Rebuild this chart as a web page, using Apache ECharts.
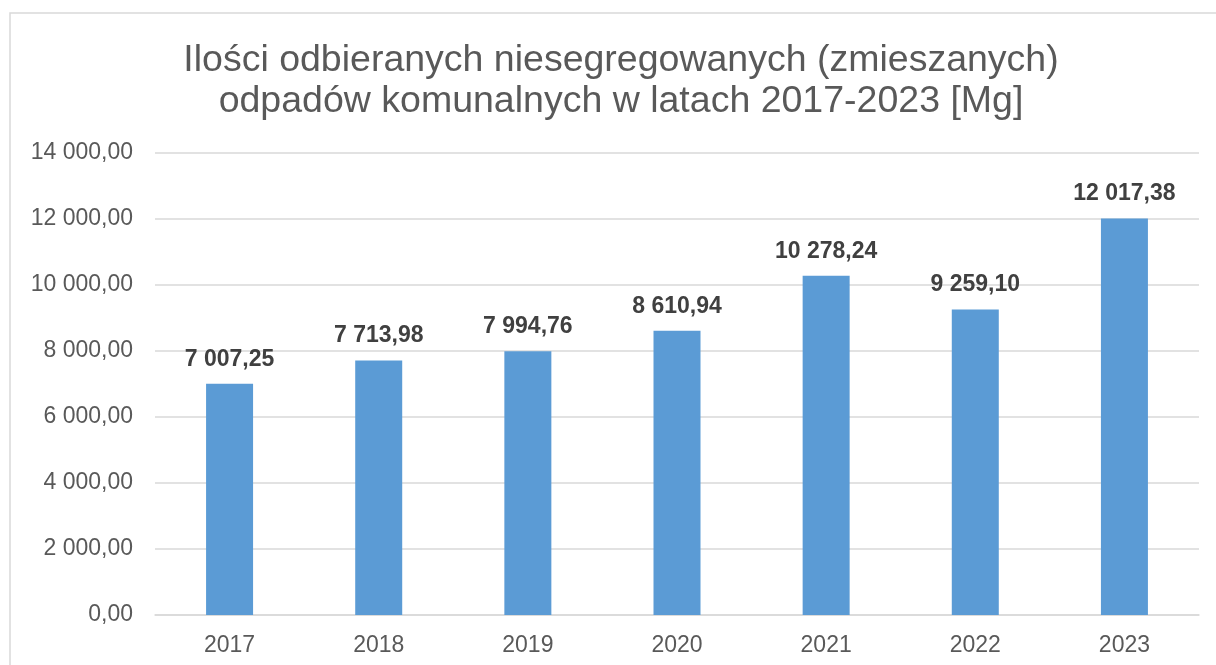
<!DOCTYPE html>
<html>
<head>
<meta charset="utf-8">
<script src="https://cdn.jsdelivr.net/npm/echarts@6/dist/echarts.min.js"></script>
<style>
  html, body { margin: 0; padding: 0; background: #fff; }
  #chart { width: 1216px; height: 665px; }
</style>
</head>
<body>
<div id="chart"></div>
<script>
const years = ['2017', '2018', '2019', '2020', '2021', '2022', '2023'];
const amounts = [7007.25, 7713.98, 7994.76, 8610.94, 10278.24, 9259.10, 12017.38];
const titleText = 'Ilości odbieranych niesegregowanych (zmieszanych)\nodpadów komunalnych w latach 2017-2023 [Mg]';

// 12017.38 -> "12 017,38"
function plNum(v) {
  const parts = v.toFixed(2).split('.');
  return parts[0].replace(/\B(?=(\d{3})+(?!\d))/g, ' ') + ',' + parts[1];
}

const chart = echarts.init(document.getElementById('chart'));

chart.setOption({
  animation: false,
  textStyle: { fontFamily: 'Liberation Sans, Arial, sans-serif' },
  graphic: [{
    type: 'rect',
    shape: { x: 10, y: 13, width: 1250, height: 700 },
    style: { fill: 'none', stroke: '#d9d9d9', lineWidth: 1.5 },
    silent: true
  }],
  title: {
    text: titleText,
    left: 616,
    textAlign: 'center',
    top: 35,
    textStyle: {
      fontSize: 37.5,
      fontWeight: 'normal',
      color: '#595959',
      lineHeight: 41
    }
  },
  grid: { left: 155, right: 17, top: 153, bottom: 50, containLabel: false },
  xAxis: {
    type: 'category',
    data: years,
    axisTick: { show: false },
    axisLine: { lineStyle: { color: '#d9d9d9', width: 1.5 } },
    axisLabel: { color: '#595959', fontSize: 23, margin: 19 }
  },
  yAxis: {
    type: 'value',
    min: 0,
    max: 14000,
    interval: 2000,
    axisLine: { show: false },
    axisTick: { show: false },
    splitLine: { lineStyle: { color: '#d9d9d9', width: 1.5 } },
    axisLabel: {
      color: '#595959',
      fontSize: 23,
      margin: 22,
      formatter: v => plNum(v)
    }
  },
  series: [{
    type: 'bar',
    data: amounts,
    barWidth: 47,
    itemStyle: { color: '#5b9bd5' },
    label: {
      show: true,
      position: 'top',
      distance: 13,
      color: '#404040',
      fontSize: 23,
      fontWeight: 'bold',
      formatter: p => plNum(p.value)
    }
  }]
});
</script>
</body>
</html>
